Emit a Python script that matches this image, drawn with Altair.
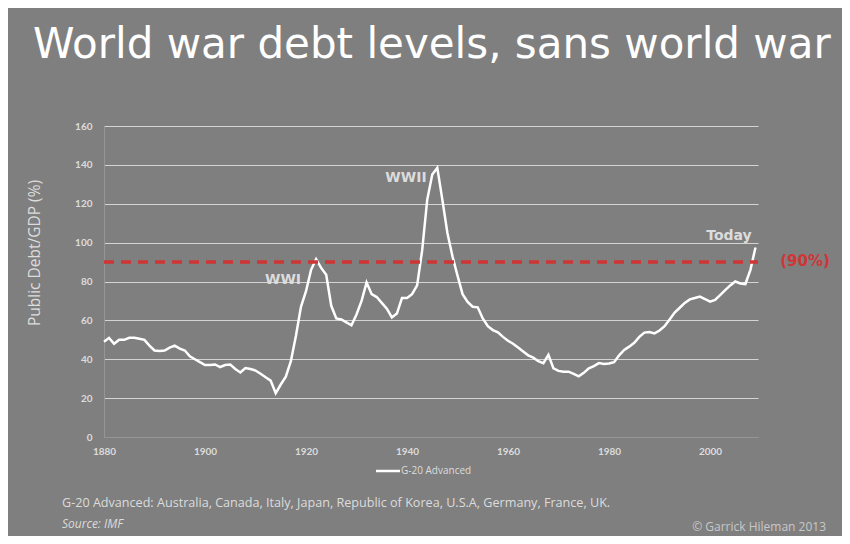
import altair as alt
import pandas as pd

# ---------------- data ----------------
years = list(range(1880, 2010))
debt = [
    49, 51, 48, 50, 50, 51, 51, 50.5, 50, 47,            # 1880s
    44.5, 44.2, 44.5, 46, 47, 45.5, 44.5, 41.5, 40, 38.5,  # 1890s
    37, 37, 37.3, 36, 37, 37.3, 35, 33.2, 35.5, 35,        # 1900s
    34.2, 32.5, 30.7, 29, 22.5, 27, 31, 39, 52, 67,        # 1910s
    75, 86, 91.5, 87, 83.5, 67.5, 61, 60.5, 59, 57.5,      # 1920s
    63, 70, 79.5, 73.5, 72, 69, 66, 61.5, 63.5, 71.5,      # 1930s
    71.5, 73.5, 78, 96, 122, 135, 138.5, 122, 105, 93,     # 1940s
    83, 73.5, 69.5, 67, 66.7, 61, 57, 55, 53.8, 51.5,      # 1950s
    49.5, 48, 46, 44, 42, 40.8, 39, 38, 42.3, 35.3,        # 1960s
    34, 33.6, 33.6, 32.5, 31.2, 33, 35.3, 36.5, 38, 37.6,  # 1970s
    37.8, 38.5, 42, 44.8, 46.5, 48.5, 51.5, 53.7, 54, 53.3,  # 1980s
    54.8, 57, 60.5, 64, 66.5, 69, 70.8, 71.5, 72.2, 71,    # 1990s
    69.6, 70.5, 73, 75.6, 78, 80, 79, 78.7, 86, 97.5,      # 2000s
]
x_ticks = [1880, 1900, 1920, 1940, 1960, 1980, 2000]
y_ticks = [0, 20, 40, 60, 80, 100, 120, 140, 160]
threshold = [90]

title_text = ["World war debt levels, sans world war"]
y_title = ["Public Debt/GDP (%)"]
ann_wwi = ["WWI"]
ann_wwii = ["WWII"]
ann_today = ["Today"]
ann_90 = ["(90%)"]
legend_label = ["G-20 Advanced"]
footer_1 = ["G-20 Advanced: Australia, Canada, Italy, Japan, Republic of Korea, U.S.A, Germany, France, UK."]
footer_2 = ["Source: IMF"]
footer_3 = ["\u00a9 Garrick Hileman 2013"]

# ---------------- layout ----------------
W, H = 654, 311
BG = "#7f7f7f"
LIGHT = "#dcdcdc"
RED = "#cf3535"

df = pd.DataFrame({"year": years, "debt": debt})

xscale = alt.Scale(domain=[1880, 2009.5], nice=False, zero=False)
yscale = alt.Scale(domain=[0, 160], nice=False)

x_axis = alt.Axis(values=x_ticks, format="d", title=None, grid=False,
                  ticks=False, domainColor="#959595", labelPadding=9,
                  labelFlush=False, labelOverlap=False,
                  labelColor=LIGHT, labelFont="Lato", labelFontSize=10,
                  labelFontWeight="bold")
y_axis = alt.Axis(values=y_ticks, title=None, ticks=False,
                  domainColor="#959595", labelPadding=12,
                  labelFlush=False, labelOverlap=False,
                  labelColor=LIGHT, labelFont="Lato", labelFontSize=10,
                  labelFontWeight="bold",
                  gridColor=alt.condition("datum.value == 0",
                                          alt.value("#959595"),
                                          alt.value("#d4d4d4")),
                  gridWidth=1.2)

line = alt.Chart(df).mark_line(color="white", strokeWidth=2.5).encode(
    x=alt.X("year:Q", scale=xscale, axis=x_axis),
    y=alt.Y("debt:Q", scale=yscale, axis=y_axis),
)

rule90 = alt.Chart(pd.DataFrame({"v": threshold})).mark_rule(
    color=RED, strokeWidth=3.5, strokeDash=[10, 7]
).encode(y=alt.Y("v:Q", scale=yscale, axis=y_axis), x=alt.value(0), x2=alt.value(W))


def txt(values, x, y, **kw):
    return alt.Chart(pd.DataFrame({"t": values})).mark_text(**kw).encode(
        x=alt.value(x), y=alt.value(y), text="t:N")


title = txt(title_text, -71, -68, font="DejaVu Sans", fontSize=42, color="white",
            align="left", baseline="alphabetic")
ytitle = txt(y_title, -69, 127, font="Open Sans", fontSize=15.5, color=LIGHT,
             angle=270, align="center", baseline="middle")
wwi = txt(ann_wwi, 179, 154, font="DejaVu Sans", fontWeight="bold", fontSize=14,
          color=LIGHT, align="center", baseline="middle")
wwii = txt(ann_wwii, 302, 52, font="DejaVu Sans", fontWeight="bold", fontSize=14,
           color=LIGHT, align="center", baseline="middle")
today = txt(ann_today, 625, 110, font="DejaVu Sans", fontWeight="bold", fontSize=14,
            color=LIGHT, align="center", baseline="middle")
p90 = txt(ann_90, 701, 135, font="DejaVu Sans", fontWeight="bold", fontSize=15,
          color=RED, align="center", baseline="middle")

leg_line = alt.Chart(pd.DataFrame({"t": legend_label})).mark_rule(
    color="white", strokeWidth=2.5
).encode(x=alt.value(272), x2=alt.value(296), y=alt.value(345))
leg_text = txt(legend_label, 297, 345, font="Open Sans", fontSize=10, color=LIGHT,
               align="left", baseline="middle")

f1 = txt(footer_1, -42, 377, font="Open Sans", fontSize=12.6, color=LIGHT,
         align="left", baseline="middle")
f2 = txt(footer_2, -42, 398, font="Open Sans", fontSize=12, fontStyle="italic",
         color=LIGHT, align="left", baseline="middle")
f3 = txt(footer_3, 722, 401, font="Open Sans", fontSize=12, color="#c8c8c8",
         align="right", baseline="middle")

chart = alt.layer(
    line, rule90, title, ytitle, wwi, wwii, today, p90,
    leg_line, leg_text, f1, f2, f3
).properties(
    width=W, height=H,
    autosize=alt.AutoSizeParams(type="none"),
    padding={"left": 96, "top": 118, "right": 84, "bottom": 99},
    background=BG,
).configure_view(stroke=None)

chart.save("out.html", embed_options={"renderer": "svg", "actions": False})
